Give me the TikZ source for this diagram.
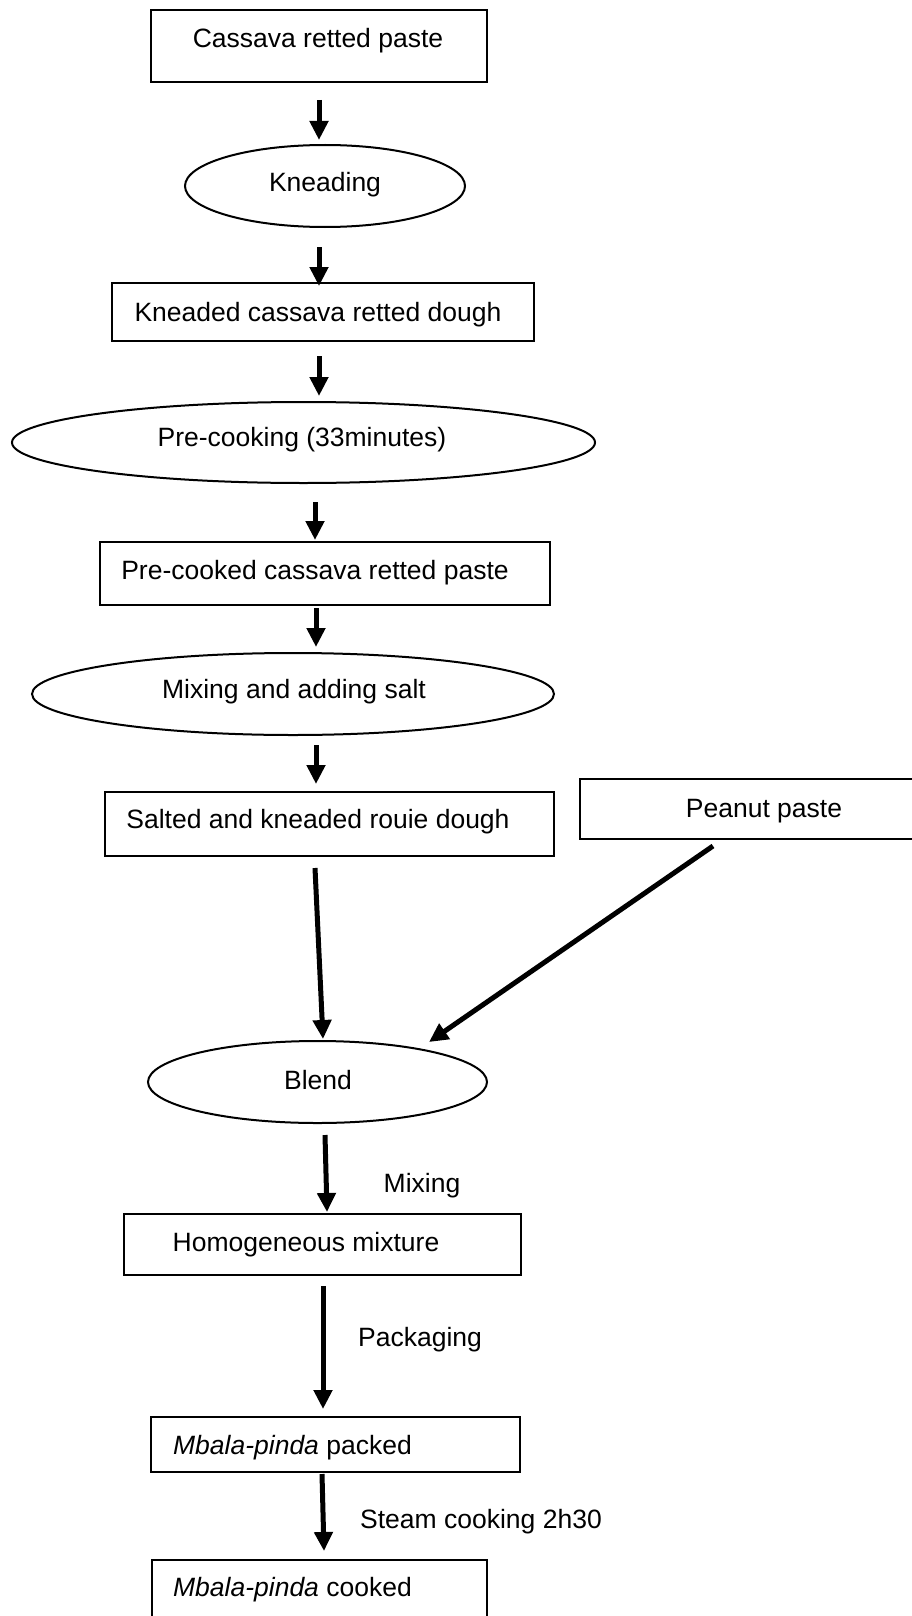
\documentclass[tikz,border=0pt]{standalone}
\usepackage{fontspec}
\setmainfont{Liberation Sans}
\usetikzlibrary{arrows.meta,shapes.geometric,calc}
\begin{document}
\begin{tikzpicture}[x=1pt,y=-1pt,
  box/.style={draw, line width=2pt, rectangle, inner sep=0pt},
  oval/.style={draw, line width=2pt, ellipse, inner sep=0pt},
  txt/.style={inner sep=0pt, yshift=-3pt, font=\fontsize{26.5}{32}\selectfont},
  arr/.style={line width=5pt, -{Triangle[length=19pt,width=18pt]}},
]
\useasboundingbox (0,0) rectangle (912,1616);
\clip (0,0) rectangle (912,1616);

% process steps
\node[box, minimum width=336pt, minimum height=72pt] (b1) at (319,46) {};
\node[txt] (b1t) at (318,38) {Cassava retted paste};

\node[oval, minimum width=280pt, minimum height=82pt] (k) at (325,186) {};
\node[txt] (kt) at (325,182) {Kneading};

\node[box, minimum width=422pt, minimum height=58pt] (b2) at (323,312) {};
\node[txt] (b2t) at (318,312) {Kneaded cassava retted dough};

\node[oval, minimum width=583pt, minimum height=81pt] (pc) at (303.5,442.5) {};
\node[txt] (pct) at (302,437) {Pre-cooking (33minutes)};

\node[box, minimum width=450pt, minimum height=63pt] (b3) at (325,573.5) {};
\node[txt] (b3t) at (315,570) {Pre-cooked cassava retted paste};

\node[oval, minimum width=522pt, minimum height=82pt] (mx) at (293,694) {};
\node[txt] (mxt) at (294,689) {Mixing and adding salt};

\node[box, minimum width=449pt, minimum height=64pt] (b4) at (329.5,824) {};
\node[txt] (b4t) at (318,819) {Salted and kneaded rouie dough};

\node[box, minimum width=420pt, minimum height=60pt] (pn) at (790,809) {};
\node[txt] (pnt) at (764,808) {Peanut paste};

\node[oval, minimum width=339pt, minimum height=82pt] (bl) at (317.5,1082) {};
\node[txt] (blt) at (318,1077) {Blend};

\node[box, minimum width=397pt, minimum height=61pt] (b5) at (322.5,1244.5) {};
\node[txt] (b5t) at (306,1242) {Homogeneous mixture};

\node[box, minimum width=369pt, minimum height=55pt] (b6) at (335.5,1444.5) {};
\node[txt] (b6t) at (292.5,1445) {\textit{Mbala-pinda} packed};

\node[box, minimum width=335pt, minimum height=100pt] (b7) at (319.5,1610) {};
\node[txt] (b7t) at (292.5,1587) {\textit{Mbala-pinda} cooked};

% operation labels
\node[txt] (lmix) at (422,1183) {Mixing};
\node[txt] (lpack) at (420,1337) {Packaging};
\node[txt] (lsteam) at (481,1519) {Steam cooking 2h30};

% flow arrows
\draw[arr] ($(b1.south)+(0,17)$) -- ($(b1.south |- k.north)+(0,-4)$);
\draw[arr] ($(k.south)+(-6,19)$) -- ($(b2.north)+(-4,4)$);
\draw[arr] ($(b2.south)+(-4,14)$) -- ($(pc.north)+(15.5,-5)$);
\draw[arr] ($(pc.south)+(11.5,18)$) -- ($(b3.north)+(-10,-1)$);
\draw[arr] ($(b3.south)+(-9,2)$) -- ($(mx.north)+(23,-5)$);
\draw[arr] ($(mx.south)+(23,9)$) -- ($(b4.north)+(-13.5,-7)$);
\draw[arr] ($(b4.south)+(-14.5,11)$) -- ($(bl.north)+(5.5,-1)$);
\draw[arr] ($(pn.south)+(-77,6)$) -- ($(bl.north)+(111.5,2)$);
\draw[arr] ($(bl.south)+(7.5,11)$) -- ($(b5.north)+(4.5,-1)$);
\draw[arr] ($(b5.south)+(0.5,10)$) -- ($(b6.north)+(-12.5,-7)$);
\draw[arr] ($(b6.south)+(-13.5,1)$) -- ($(b7.north)+(4.5,-8)$);
\end{tikzpicture}
\end{document}
